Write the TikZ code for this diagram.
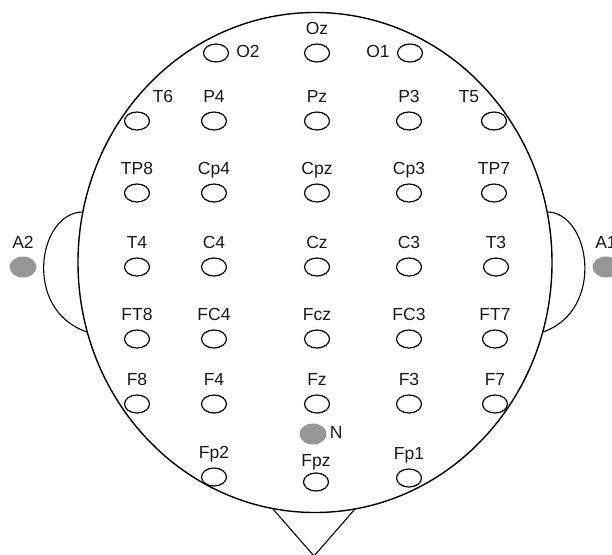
\documentclass[tikz,border=0pt]{standalone}
\usepackage{fontspec}
\setmainfont{Liberation Sans}
\usepackage{xcolor}
\usepackage{tikz}
\usetikzlibrary{shapes.geometric,positioning}

\definecolor{refgray}{RGB}{150,150,150}
\tikzset{
  elec/.style={ellipse,draw,line width=1.2pt,inner sep=0pt,minimum width=25pt,minimum height=18pt},
  refel/.style={ellipse,fill=refgray,inner sep=0pt,minimum width=27pt,minimum height=21pt},
  lbl/.style={font=\fontsize{17.5}{19}\selectfont,text=black!90,inner sep=0pt,text height=12.5pt,text depth=3.5pt},
  every label/.style={lbl},
  label distance=5pt
}

\begin{document}
\begin{tikzpicture}[x=1pt,y=-1pt]
  \useasboundingbox (0,0) rectangle (612,554);
  % head, ears and nose
  \draw[line width=1.4pt] (315,262.5) ellipse [x radius=237pt,y radius=250pt];
  \draw[line width=1.1pt] (83,212) .. controls (38,212) and (22,310) .. (87,332);
  \draw[line width=1.1pt] (547,212) .. controls (590,212) and (606,310) .. (543,332);
  \draw[line width=1.1pt] (273,509) -- (314,556) -- (355,509);
  % occipital row
  \node[elec,label={[label distance=7pt]right:O2}] (O2) at (216,53) {};
  \node[elec,label=above:Oz] (Oz) at (317,53) {};
  \node[elec,label={[label distance=7pt]left:O1}] (O1) at (410,53) {};
  % parietal row
  \node[elec,label={[xshift=26pt]above:T6}] (T6) at (137,121) {};
  \node[elec,label=above:P4] (P4) at (214,121) {};
  \node[elec,label=above:Pz] (Pz) at (317,121) {};
  \node[elec,label=above:P3] (P3) at (409,121) {};
  \node[elec,label={[xshift=-25pt]above:T5}] (T5) at (494,121) {};
  % centro-parietal row
  \node[elec,label=above:TP8] (TP8) at (137,193) {};
  \node[elec,label=above:Cp4] (Cp4) at (214,193) {};
  \node[elec,label=above:Cpz] (Cpz) at (317,193) {};
  \node[elec,label=above:Cp3] (Cp3) at (409,193) {};
  \node[elec,label=above:TP7] (TP7) at (494,193) {};
  % central row
  \node[elec,label=above:T4] (T4) at (137,267) {};
  \node[elec,label=above:C4] (C4) at (214,267) {};
  \node[elec,label=above:Cz] (Cz) at (317,267) {};
  \node[elec,label=above:C3] (C3) at (409,267) {};
  \node[elec,label=above:T3] (T3) at (496,267) {};
  % fronto-central row
  \node[elec,label=above:FT8] (FT8) at (137,339) {};
  \node[elec,label=above:FC4] (FC4) at (214,339) {};
  \node[elec,label=above:Fcz] (Fcz) at (317,339) {};
  \node[elec,label=above:FC3] (FC3) at (409,339) {};
  \node[elec,label=above:FT7] (FT7) at (495,339) {};
  % frontal row
  \node[elec,label=above:F8] (F8) at (137,404) {};
  \node[elec,label=above:F4] (F4) at (214,404) {};
  \node[elec,label=above:Fz] (Fz) at (317,404) {};
  \node[elec,label=above:F3] (F3) at (409,404) {};
  \node[elec,label=above:F7] (F7) at (495,404) {};
  % frontal pole row
  \node[elec,label=above:Fp2] (Fp2) at (214,477) {};
  \node[elec,label={[label distance=2pt]above:Fpz}] (Fpz) at (316,482) {};
  \node[elec,label=above:Fp1] (Fp1) at (409,478) {};
  % reference and ground
  \node[refel,label={[label distance=3pt]right:N}] (N) at (313,434) {};
  \node[refel,label={[label distance=4pt]above:A2}] (A2) at (23,267) {};
  \node[refel,label={[label distance=4pt]above:A1}] (A1) at (606,267) {};
\end{tikzpicture}
\end{document}
